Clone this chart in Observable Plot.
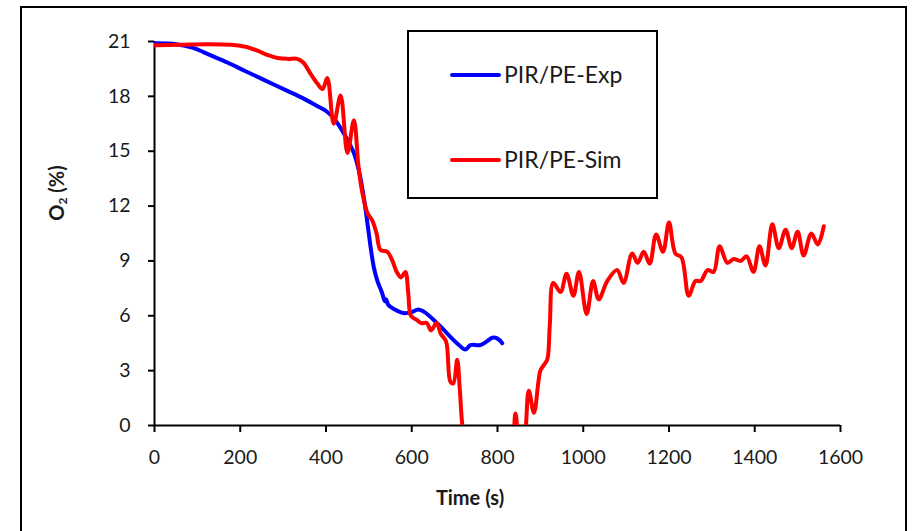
<!DOCTYPE html>
<html>
<head>
<meta charset="utf-8">
<script src="https://cdn.jsdelivr.net/npm/d3@7"></script>
<script src="https://cdn.jsdelivr.net/npm/@observablehq/plot@0.6"></script>
<style>
  html, body { margin: 0; padding: 0; background: #fff; }
  #wrap { position: relative; width: 915px; height: 531px; overflow: hidden; font-family: Lato, "Open Sans", sans-serif; color: #1a1a1a; }
  #frame { position: absolute; left: 20px; top: 6px; width: 887px; height: 540px; border: 2px solid #000; box-sizing: border-box; pointer-events: none; }
  #chart { position: absolute; left: 0; top: 0; }
  .legend { position: absolute; left: 407px; top: 30px; width: 251px; height: 169px; border: 2px solid #000; box-sizing: border-box; background: #fff; }
  .sw { position: absolute; height: 4px; border-radius: 2px; width: 51px; left: 41px; }
  .lt { position: absolute; left: 95px; font-size: 23px; line-height: 23px; white-space: nowrap; }
  .xt { position: absolute; left: 470px; top: 497px; transform: translate(-50%, -50%); font-weight: bold; font-size: 20px; white-space: nowrap; }
  .yt { position: absolute; left: 57px; top: 193px; transform: translate(-50%, -50%) rotate(-90deg); font-weight: bold; font-size: 20px; white-space: nowrap; }
  .yt sub { font-size: 12px; vertical-align: -3px; }
</style>
</head>
<body>
<div id="wrap">
  <div id="chart"></div>
  <div class="legend">
    <div class="sw" style="top:41px;background:#0000ff"></div>
    <div class="lt" style="top:31px">PIR/PE-Exp</div>
    <div class="sw" style="top:126px;background:#ff0000"></div>
    <div class="lt" style="top:116px">PIR/PE-Sim</div>
  </div>
  <div class="xt">Time (s)</div>
  <div class="yt">O<sub>2</sub> (%)</div>
  <div id="frame"></div>
</div>
<script>
// Experimental series (time in s, O2 in %)
const expTime = [0, 50, 90, 130, 170, 210, 260, 310, 350, 385, 400, 418, 441, 465, 478, 488, 497, 505, 512, 520, 530, 534, 537, 540, 545, 560, 580, 600, 615, 630, 650, 670, 690, 710, 725, 737, 760, 775, 788, 800, 811];
const expO2   = [20.9, 20.85, 20.65, 20.25, 19.85, 19.4, 18.85, 18.3, 17.85, 17.4, 17.2, 16.8, 16.0, 14.9, 13.8, 12.5, 11.0, 9.6, 8.6, 7.9, 7.3, 7.0, 6.8, 6.9, 6.6, 6.35, 6.15, 6.2, 6.35, 6.2, 5.8, 5.35, 4.85, 4.4, 4.15, 4.4, 4.4, 4.6, 4.8, 4.75, 4.5];

// Simulated series (values below 0 are hidden under the axis)
const simTime = [0, 60, 120, 180, 215, 240, 265, 287, 310, 333, 347, 365, 380, 392, 403, 418, 434, 450, 465, 476, 485, 497, 508, 518, 527, 543, 555, 565, 575, 585, 592, 598, 610, 622, 635, 645, 658, 668, 680, 690, 697, 706, 712, 718, 730, 780, 830, 842, 852, 862, 873, 885, 900, 908, 916, 922, 930, 947, 961, 977, 990, 1008, 1023, 1036, 1056, 1079, 1094, 1114, 1127, 1141, 1155, 1170, 1186, 1200, 1215, 1229, 1246, 1262, 1274, 1290, 1304, 1318, 1336, 1351, 1367, 1381, 1397, 1411, 1425, 1441, 1456, 1472, 1486, 1500, 1514, 1532, 1547, 1561];
const simO2   = [20.8, 20.82, 20.85, 20.82, 20.7, 20.5, 20.25, 20.1, 20.05, 20.05, 19.85, 19.2, 18.7, 18.4, 19.0, 16.5, 18.05, 14.9, 16.7, 14.1, 12.7, 11.6, 11.2, 10.5, 9.6, 9.5, 9.0, 8.4, 8.1, 8.4, 7.2, 6.0, 5.8, 5.6, 5.6, 5.2, 5.6, 5.0, 4.6, 2.4, 2.3, 3.6, 2.0, 0, -2, -3, -1.5, 0.65, -1.5, -1.0, 1.9, 0.7, 3.0, 3.3, 3.6, 5.5, 7.8, 7.3, 8.3, 7.1, 8.4, 6.1, 7.9, 6.9, 7.9, 8.5, 7.8, 9.4, 8.9, 9.5, 8.85, 10.45, 9.5, 11.1, 9.4, 9.2, 7.1, 7.9, 7.9, 8.5, 8.4, 9.8, 8.9, 9.1, 9.0, 9.25, 8.4, 9.8, 8.75, 11.0, 9.7, 10.7, 9.7, 10.6, 9.3, 10.5, 9.9, 10.9];

const xTicks = [0, 200, 400, 600, 800, 1000, 1200, 1400, 1600];
const yTicks = [0, 3, 6, 9, 12, 15, 18, 21];

const expData = expTime.map((t, i) => ({t, v: expO2[i]}));
const simData = simTime.map((t, i) => ({t, v: simO2[i]}));

const chart = Plot.plot({
  width: 915,
  height: 531,
  marginLeft: 154,
  marginRight: 75,
  marginTop: 41,
  marginBottom: 106,
  x: {domain: [0, 1600]},
  y: {domain: [0, 21]},
  style: {fontFamily: "Lato, 'Open Sans', sans-serif", fontSize: "19px", color: "#1a1a1a", background: "transparent"},
  marks: [
    Plot.ruleX([0], {stroke: "#000", strokeWidth: 2}),
    Plot.ruleY([0], {stroke: "#000", strokeWidth: 2}),
    Plot.axisX({ticks: xTicks, tickSize: 7, tickPadding: 18, fontSize: 19.5, tickFormat: d => String(d), label: null, stroke: "#000", strokeWidth: 2, strokeOpacity: 1}),
    Plot.axisY({ticks: yTicks, tickSize: 6, tickPadding: 18, fontSize: 19.5, tickFormat: d => String(d), label: null, stroke: "#000", strokeWidth: 2, strokeOpacity: 1}),
    Plot.line(expData, {x: "t", y: "v", stroke: "#0000ff", strokeWidth: 4, curve: "catmull-rom", clip: true}),
    Plot.line(simData, {x: "t", y: "v", stroke: "#ff0000", strokeWidth: 4, curve: "catmull-rom", clip: true})
  ]
});
document.getElementById("chart").appendChild(chart);
</script>
</body>
</html>
